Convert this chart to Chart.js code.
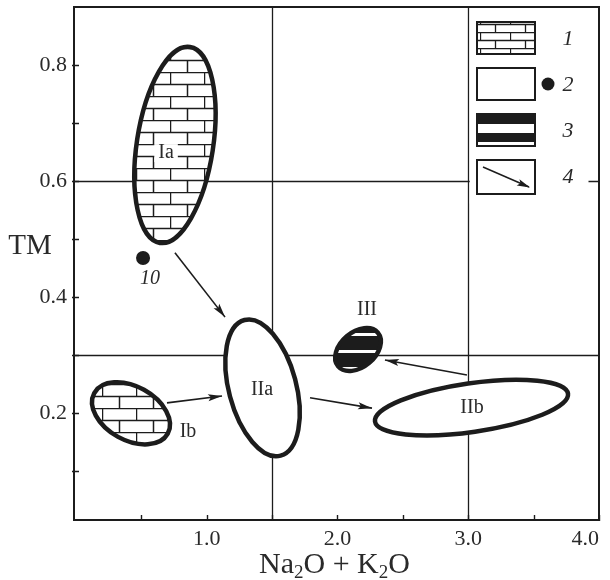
<!DOCTYPE html>
<html>
<head>
<meta charset="utf-8">
<script src="https://cdn.jsdelivr.net/npm/chart.js@4.4.0/dist/chart.umd.min.js"></script>
<style>
  html, body { margin: 0; padding: 0; background: #fff; }
</style>
</head>
<body>
<canvas id="chart" width="610" height="580"></canvas>
<script>
// Axis ticks and labels
const xTicks = [0.5, 1.0, 1.5, 2.0, 2.5, 3.0, 3.5, 4.0];
const xLabels = [1.0, 2.0, 3.0, 4.0];
const yTicks = [0.1, 0.2, 0.3, 0.4, 0.5, 0.6, 0.7, 0.8];
const yLabels = [0.2, 0.4, 0.6, 0.8];

// Division lines of the diagram
const divX = [1.5, 3.0];
const divY = [0.3, 0.6];

// Fields: centre, tip of the long axis, short/long axis ratio, legend type
const fieldNames = ['Ia', 'Ib', 'IIa', 'IIb', 'III'];
const fieldCenters = [[0.757, 0.662], [0.421, 0.199], [1.427, 0.243], [3.025, 0.209], [2.157, 0.309]];
const fieldTips = [[0.872, 0.831], [0.702, 0.164], [1.289, 0.360], [3.763, 0.233], [2.309, 0.338]];
const fieldRatios = [0.385, 0.64, 0.48, 0.25, 0.67];
const fieldTypes = [1, 1, 2, 2, 3];
const fieldLabelAt = [[0.689, 0.648], [0.857, 0.167], [1.423, 0.239], [3.029, 0.208], [2.226, 0.377]];

// Sample 10
const samplePoint = [{ x: 0.513, y: 0.467 }];
const sampleLabel = '10';
const sampleLabelAt = [0.566, 0.432];

// Evolution arrows
const arrowFrom = [[0.757, 0.476], [0.696, 0.217], [1.790, 0.226], [2.990, 0.265]];
const arrowTo = [[1.140, 0.365], [1.117, 0.229], [2.264, 0.208], [2.363, 0.291]];

// Legend keys
const legendKeys = ['1', '2', '3', '4'];

const serif = '"Liberation Serif", "DejaVu Serif", serif';
const ink = '#1c1c1c';
const textInk = '#2a2a2a';

function brickPattern(ctx, w, h, lw) {
  const c = document.createElement('canvas');
  c.width = w; c.height = h * 2;
  const g = c.getContext('2d');
  g.fillStyle = '#fff';
  g.fillRect(0, 0, c.width, c.height);
  g.strokeStyle = ink;
  g.lineWidth = lw;
  g.beginPath();
  g.moveTo(0, 0.5); g.lineTo(w, 0.5);
  g.moveTo(0, h + 0.5); g.lineTo(w, h + 0.5);
  g.moveTo(0.5, 0); g.lineTo(0.5, h);
  g.moveTo(w / 2 + 0.5, h); g.lineTo(w / 2 + 0.5, 2 * h);
  g.stroke();
  return ctx.createPattern(c, 'repeat');
}

function stripePattern(ctx) {
  const c = document.createElement('canvas');
  c.width = 4; c.height = 17;
  const g = c.getContext('2d');
  g.fillStyle = ink;
  g.fillRect(0, 0, 4, 17);
  g.fillStyle = '#fff';
  g.fillRect(0, 10, 4, 3);
  return ctx.createPattern(c, 'repeat');
}

function fieldGeom(chart, i) {
  const xs = chart.scales.x, ys = chart.scales.y;
  const cx = xs.getPixelForValue(fieldCenters[i][0]);
  const cy = ys.getPixelForValue(fieldCenters[i][1]);
  const tx = xs.getPixelForValue(fieldTips[i][0]);
  const ty = ys.getPixelForValue(fieldTips[i][1]);
  const a = Math.hypot(tx - cx, ty - cy);
  return { cx, cy, a, b: a * fieldRatios[i], rot: Math.atan2(ty - cy, tx - cx) };
}

function arrowHead(ctx, x0, y0, x1, y1, len, half) {
  const ang = Math.atan2(y1 - y0, x1 - x0);
  ctx.save();
  ctx.translate(x1, y1);
  ctx.rotate(ang);
  ctx.beginPath();
  ctx.moveTo(0, 0);
  ctx.lineTo(-len, -half);
  ctx.lineTo(-len * 0.8, 0);
  ctx.lineTo(-len, half);
  ctx.closePath();
  ctx.fillStyle = ink;
  ctx.fill();
  ctx.restore();
}

const diagramPlugin = {
  id: 'diagram',
  beforeDatasetsDraw(chart) {
    const { ctx, chartArea: area, scales: { x, y } } = chart;
    ctx.save();
    // division lines
    ctx.strokeStyle = ink;
    ctx.lineWidth = 1.3;
    ctx.beginPath();
    divX.forEach(v => {
      const px = Math.round(x.getPixelForValue(v)) + 0.5;
      ctx.moveTo(px, area.top); ctx.lineTo(px, area.bottom);
    });
    divY.forEach(v => {
      const py = Math.round(y.getPixelForValue(v)) + 0.5;
      ctx.moveTo(area.left, py); ctx.lineTo(area.right, py);
    });
    ctx.stroke();

    // fields
    const bricks = brickPattern(ctx, 34, 12, 1.5);
    const stripes = stripePattern(ctx);
    fieldNames.forEach((n, i) => {
      const g = fieldGeom(chart, i);
      ctx.beginPath();
      ctx.ellipse(g.cx, g.cy, g.a, g.b, g.rot, 0, Math.PI * 2);
      ctx.fillStyle = '#fff';
      ctx.fill();
      if (fieldTypes[i] === 1) { ctx.fillStyle = bricks; ctx.fill(); }
      if (fieldTypes[i] === 3) { ctx.fillStyle = stripes; ctx.fill(); }
      ctx.lineWidth = 4.5;
      ctx.strokeStyle = ink;
      ctx.stroke();
    });
    ctx.restore();
  },
  afterDatasetsDraw(chart) {
    const { ctx, chartArea: area, scales: { x, y } } = chart;
    ctx.save();

    // arrow heads at the end of each arrow line
    chart.data.datasets.forEach((ds, di) => {
      if (!ds.arrow) return;
      const pts = chart.getDatasetMeta(di).data;
      const p0 = pts[pts.length - 2], p1 = pts[pts.length - 1];
      arrowHead(ctx, p0.x, p0.y, p1.x, p1.y, 14, 3.6);
    });

    // field labels
    ctx.font = '20px ' + serif;
    ctx.textAlign = 'center';
    ctx.textBaseline = 'middle';
    fieldNames.forEach((n, i) => {
      const px = x.getPixelForValue(fieldLabelAt[i][0]);
      const py = y.getPixelForValue(fieldLabelAt[i][1]);
      const w = ctx.measureText(n).width;
      ctx.fillStyle = '#fff';
      ctx.fillRect(px - w / 2 - 4, py - 9, w + 8, 18);
      ctx.fillStyle = textInk;
      ctx.fillText(n, px, py);
    });

    // sample label
    ctx.font = 'italic 20px ' + serif;
    ctx.fillStyle = textInk;
    ctx.fillText(sampleLabel, x.getPixelForValue(sampleLabelAt[0]), y.getPixelForValue(sampleLabelAt[1]));

    // frame
    ctx.strokeStyle = ink;
    ctx.lineWidth = 2;
    ctx.strokeRect(area.left, area.top, area.right - area.left, area.bottom - area.top);

    // inward tick marks
    ctx.lineWidth = 1.4;
    ctx.beginPath();
    yTicks.forEach(v => {
      const py = Math.round(y.getPixelForValue(v)) + 0.5;
      ctx.moveTo(area.left - 2, py); ctx.lineTo(area.left + 5, py);
    });
    xTicks.forEach(v => {
      const px = Math.round(x.getPixelForValue(v)) + 0.5;
      ctx.moveTo(px, area.bottom + 1); ctx.lineTo(px, area.bottom - 5);
    });
    ctx.stroke();

    // legend panel
    const x3 = x.getPixelForValue(divX[divX.length - 1]);
    ctx.fillStyle = '#fff';
    ctx.fillRect(x3 + 1.5, area.top + 1.5, area.right - 12 - x3, 195);
    const sx = area.right - 122, sw = 58, sh = 32;
    const rowTop = [area.top + 15, area.top + 61, area.top + 107, area.top + 153];
    ctx.lineWidth = 2;
    ctx.strokeStyle = ink;
    // 1: bricks
    ctx.fillStyle = brickPattern(ctx, 30, 8, 1.3);
    ctx.fillRect(sx, rowTop[0], sw, sh);
    ctx.strokeRect(sx, rowTop[0], sw, sh);
    // 2: blank field
    ctx.fillStyle = '#fff';
    ctx.fillRect(sx, rowTop[1], sw, sh);
    ctx.strokeRect(sx, rowTop[1], sw, sh);
    ctx.beginPath();
    ctx.arc(area.right - 51, rowTop[1] + sh / 2, 6.5, 0, Math.PI * 2);
    ctx.fillStyle = ink;
    ctx.fill();
    // 3: stripes
    ctx.fillStyle = '#fff';
    ctx.fillRect(sx, rowTop[2], sw, sh);
    ctx.fillStyle = ink;
    ctx.fillRect(sx, rowTop[2] + 1, sw, 9);
    ctx.fillRect(sx, rowTop[2] + 19, sw, 9);
    ctx.strokeRect(sx, rowTop[2], sw, sh);
    // 4: arrow
    ctx.fillStyle = '#fff';
    ctx.fillRect(sx, rowTop[3], sw, sh + 2);
    ctx.strokeRect(sx, rowTop[3], sw, sh + 2);
    ctx.lineWidth = 1.5;
    ctx.beginPath();
    ctx.moveTo(sx + 6, rowTop[3] + 7);
    ctx.lineTo(sx + 52, rowTop[3] + 27);
    ctx.stroke();
    arrowHead(ctx, sx + 6, rowTop[3] + 7, sx + 53, rowTop[3] + 27.5, 13, 3.4);
    // key numbers
    ctx.font = 'italic 22px ' + serif;
    ctx.fillStyle = textInk;
    ctx.textAlign = 'center';
    ctx.textBaseline = 'middle';
    legendKeys.forEach((k, i) => {
      ctx.fillText(k, area.right - 31, rowTop[i] + sh / 2 + 1);
    });
    ctx.restore();
  },
  afterDraw(chart) {
    const { ctx, chartArea: area } = chart;
    ctx.save();
    ctx.fillStyle = textInk;
    ctx.textBaseline = 'alphabetic';
    // y title, upright
    ctx.font = '29px ' + serif;
    ctx.textAlign = 'center';
    ctx.fillText('TM', 30, 254);
    // x title with subscripts
    const parts = [['Na', 0], ['2', 1], ['O + K', 0], ['2', 1], ['O', 0]];
    const big = '30px ' + serif, small = '19px ' + serif;
    let total = 0;
    parts.forEach(p => { ctx.font = p[1] ? small : big; total += ctx.measureText(p[0]).width; });
    let cx = (area.left + area.right) / 2 - 2 - total / 2;
    const base = 573;
    ctx.textAlign = 'left';
    parts.forEach(p => {
      ctx.font = p[1] ? small : big;
      ctx.fillText(p[0], cx, p[1] ? base + 5 : base);
      cx += ctx.measureText(p[0]).width;
    });
    ctx.restore();
  }
};

const datasets = [{
  label: 'sample',
  data: samplePoint,
  pointRadius: 7,
  pointBackgroundColor: ink,
  pointBorderWidth: 0
}];
arrowFrom.forEach((f, i) => {
  datasets.push({
    label: 'arrow ' + (i + 1),
    data: [{ x: f[0], y: f[1] }, { x: arrowTo[i][0], y: arrowTo[i][1] }],
    showLine: true,
    borderColor: ink,
    borderWidth: 1.6,
    pointRadius: 0,
    arrow: true
  });
});

new Chart(document.getElementById('chart'), {
  type: 'scatter',
  data: { datasets: datasets },
  options: {
    responsive: false,
    animation: false,
    devicePixelRatio: 1,
    layout: { padding: { top: 7, right: 11, left: 0, bottom: 0 } },
    plugins: {
      legend: { display: false },
      tooltip: { enabled: false }
    },
    scales: {
      x: {
        type: 'linear',
        min: -0.015,
        max: 4.0,
        afterBuildTicks: s => { s.ticks = xTicks.map(v => ({ value: v })); },
        afterFit: s => { s.height = 60; s.paddingLeft = 0; s.paddingRight = 0; },
        grid: { display: false, drawTicks: false },
        border: { display: false },
        ticks: {
          autoSkip: false,
          maxRotation: 0,
          align: 'inner',
          padding: 6,
          color: textInk,
          font: { family: serif, size: 22 },
          callback: v => xLabels.includes(v) ? v.toFixed(1) : ''
        }
      },
      y: {
        type: 'linear',
        min: 0.015,
        max: 0.9,
        afterBuildTicks: s => { s.ticks = yTicks.map(v => ({ value: v })); },
        afterFit: s => { s.width = 74; s.paddingTop = 0; s.paddingBottom = 0; },
        grid: { display: false, drawTicks: false },
        border: { display: false },
        ticks: {
          autoSkip: false,
          padding: 7,
          color: textInk,
          font: { family: serif, size: 22 },
          callback: v => yLabels.includes(v) ? v.toFixed(1) : ''
        }
      }
    }
  },
  plugins: [diagramPlugin]
});
</script>
</body>
</html>
